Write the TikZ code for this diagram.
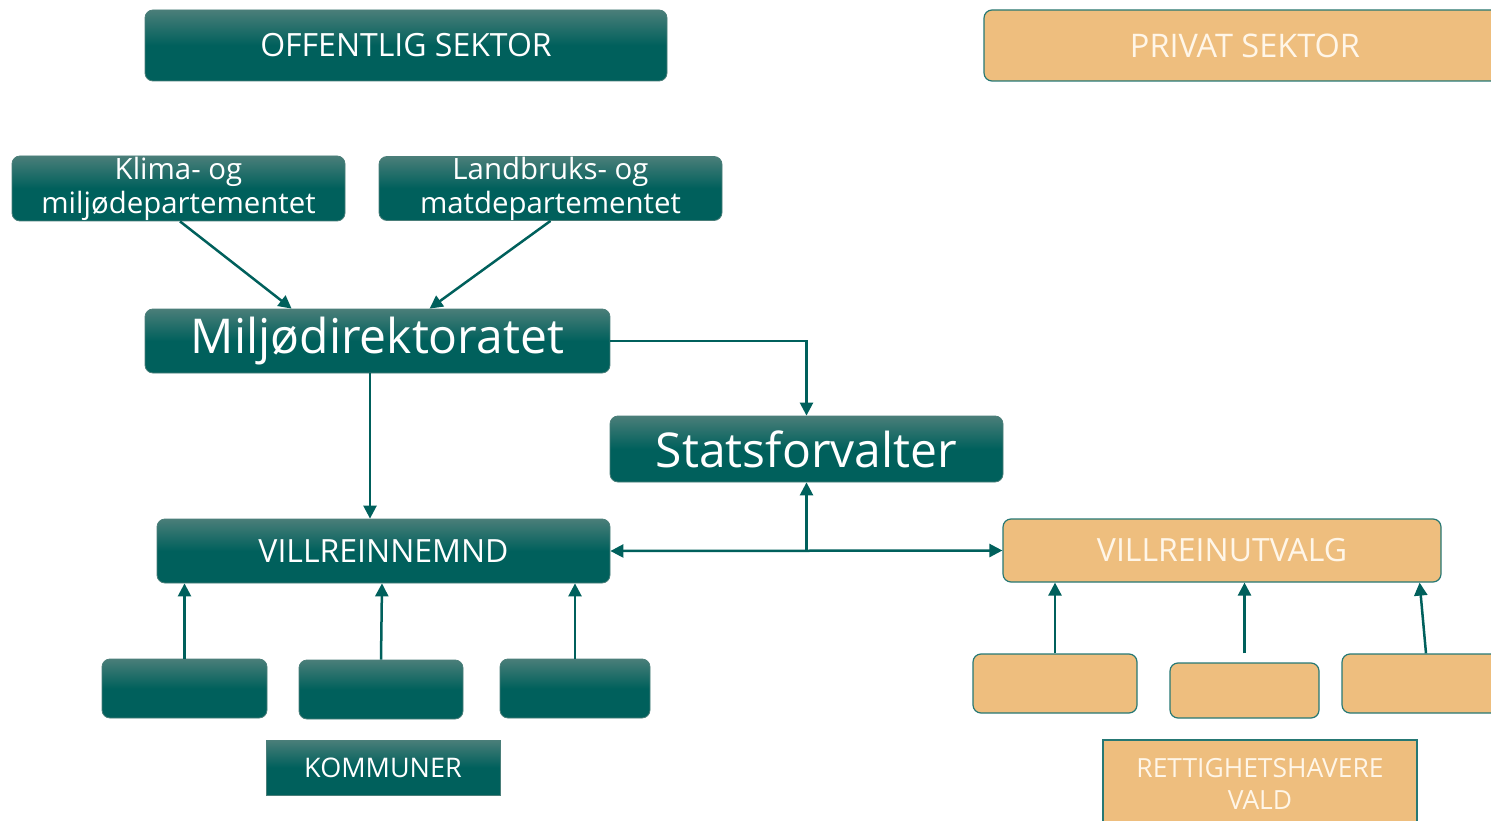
\documentclass[tikz,border=0pt]{standalone}
\usepackage{fontspec}
\setmainfont{Open Sans}
\usetikzlibrary{arrows.meta}
\definecolor{tealdark}{RGB}{0,96,92}
\definecolor{teallight}{RGB}{74,126,121}
\definecolor{tanfill}{RGB}{238,190,126}
\definecolor{tantext}{RGB}{255,246,232}
\tikzset{
  tealbox/.style={rounded corners=8pt, top color=teallight, bottom color=tealdark, middle color=tealdark,
    draw=teallight, line width=0.8pt, text=white, inner sep=0pt, align=center},
  sqteal/.style={tealbox, rounded corners=0pt},
  tanbox/.style={rounded corners=8pt, fill=tanfill, draw=tealdark!85, line width=1.2pt, text=tantext, inner sep=0pt, align=center},
  sqtan/.style={tanbox, rounded corners=0pt},
  arr/.style={draw=tealdark, line width=2.5pt, -{Triangle[length=13pt,width=13pt]}},
  arrboth/.style={draw=tealdark, line width=2.5pt, {Triangle[length=13pt,width=13pt]}-{Triangle[length=13pt,width=13pt]}},
  ln/.style={draw=tealdark, line width=2.5pt}
}
\begin{document}
\begin{tikzpicture}[x=1pt,y=-1pt]
\useasboundingbox (0,0) rectangle (1491,821);
\clip (0,0) rectangle (1491,821);
% headers
\node[tealbox, minimum width=522pt, minimum height=71pt, font=\fontsize{32}{36}\selectfont] (off) at (406,45.5) {OFFENTLIG SEKTOR};
\node[tanbox, minimum width=522pt, minimum height=71pt, font=\fontsize{32.5}{36}\selectfont] (priv) at (1245,45.5) {PRIVAT SEKTOR};
% ministries
\node[tealbox, minimum width=333pt, minimum height=65pt, font=\fontsize{29.4}{34}\selectfont] (klima) at (178.5,188.5) {Klima- og\\miljødepartementet};
\node[tealbox, minimum width=343pt, minimum height=64pt, font=\fontsize{29.4}{34}\selectfont] (land) at (550.5,188.5) {Landbruks- og\\matdepartementet};
% directorate
\node[tealbox, minimum width=465pt, minimum height=64pt, font=\fontsize{48}{56}\selectfont] (miljo) at (377.5,341) {Miljødirektoratet};
\node[tealbox, minimum width=393pt, minimum height=66pt, font=\fontsize{48}{56}\selectfont] (stats) at (806.5,449) {Statsforvalter};
% boards
\node[tealbox, minimum width=453pt, minimum height=64pt, font=\fontsize{32}{36}\selectfont] (nemnd) at (383.5,551) {VILLREINNEMND};
\node[tanbox, minimum width=438pt, minimum height=63pt, font=\fontsize{32}{36}\selectfont] (utvalg) at (1222,550.5) {VILLREINUTVALG};
% municipalities
\node[tealbox, minimum width=165pt, minimum height=59pt] (k1) at (184.5,688.5) {};
\node[tealbox, minimum width=164pt, minimum height=59pt] (k2) at (381,689.5) {};
\node[tealbox, minimum width=150pt, minimum height=59pt] (k3) at (575,688.5) {};
\node[sqteal, minimum width=234pt, minimum height=55pt, font=\fontsize{27}{32}\selectfont] (komm) at (383,767.5) {KOMMUNER};
% rights holders
\node[tanbox, minimum width=164pt, minimum height=59pt] (r1) at (1055,683.5) {};
\node[tanbox, minimum width=149pt, minimum height=55pt] (r2) at (1244.5,690.5) {};
\node[tanbox, minimum width=168pt, minimum height=59pt] (r3) at (1426,683.5) {};
\node[sqtan, minimum width=314pt, minimum height=88pt, font=\fontsize{26.4}{32}\selectfont] (rett) at (1260,784) {RETTIGHETSHAVERE\\VALD};
% connectors
\draw[arr] ([xshift=1.5pt]klima.south) -- ([xshift=147pt]miljo.north west);
\draw[arr] (land.south) -- ([xshift=285pt]miljo.north west);
\draw[arr] (miljo.east) -| (stats.north);
\draw[arr] ([xshift=-7.5pt]miljo.south) -- ([xshift=-7.5pt]miljo.south |- nemnd.north);
\draw[arrboth] (nemnd.east) -- (utvalg.west);
\coordinate (junc) at (stats.south |- nemnd.east);
\draw[arr] (junc) -- (stats.south);
\draw[arr] (k1.north) -- (k1.north |- nemnd.south);
\draw[arr] (k2.north) -- ([xshift=1pt]k2.north |- nemnd.south);
\draw[arr] (k3.north) -- (k3.north |- nemnd.south);
\draw[arr] (r1.north) -- (r1.north |- utvalg.south);
\draw[arr] ([yshift=9pt]r2.north) -- (r2.north |- utvalg.south);
\draw[arr] (r3.north) -- ([xshift=-22pt]utvalg.south east);
\end{tikzpicture}
\end{document}
